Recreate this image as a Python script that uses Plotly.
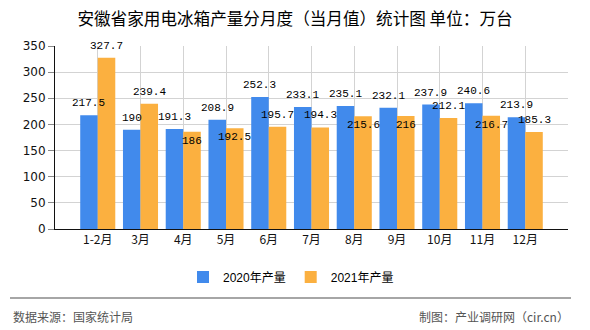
import plotly.graph_objects as go

categories = ["1-2月", "3月", "4月", "5月", "6月", "7月", "8月", "9月", "10月", "11月", "12月"]
y2020 = [217.5, 190, 191.3, 208.9, 252.3, 233.1, 235.1, 232.1, 237.9, 240.6, 213.9]
y2021 = [327.7, 239.4, 186, 192.5, 195.7, 194.3, 215.6, 216, 212.1, 216.7, 185.3]
series_names = ["2020年产量", "2021年产量"]
colors = ["#418AEC", "#FBB040"]
title = "安徽省家用电冰箱产量分月度（当月值）统计图 单位：万台"
source_left = "数据来源：国家统计局"
source_right = "制图：产业调研网（cir.cn）"

W, H = 590, 330
ML, MR, MT, MB = 55, 22, 46, 101
PW, PH = W - ML - MR, H - MT - MB
BARGAP = 0.18

xs = list(range(len(categories)))
cjk = "Noto Sans CJK SC"
label_font = dict(family="Liberation Mono, " + cjk, size=11, color="#000")

fig = go.Figure()
for name, vals, col in zip(series_names, [y2020, y2021], colors):
    fig.add_trace(go.Bar(x=xs, y=vals, name=name, marker=dict(color=col, line=dict(width=0))))

off = (1 - BARGAP) / 4
ann = []
for i, (a, b) in enumerate(zip(y2020, y2021)):
    ann.append(dict(x=i - off, y=a, text=str(a), showarrow=False, yanchor="middle",
                    yshift=12, font=label_font, xref="x", yref="y"))
    # avoid collision with neighbouring label: place inside when values are close
    shift = -9 if abs(a - b) < 25 else 12
    ann.append(dict(x=i + off, y=b, text=str(b), showarrow=False, yanchor="middle",
                    yshift=shift, font=label_font, xref="x", yref="y"))

def px_x(p):
    return (p - ML) / PW

def px_y(p):
    return (MT + PH - p) / PH

foot_font = dict(family=cjk, size=12, color="#555")
ann.append(dict(x=px_x(11), y=px_y(316), xref="paper", yref="paper", text=source_left,
                showarrow=False, xanchor="left", yanchor="middle", font=foot_font))
ann.append(dict(x=px_x(571), y=px_y(316), xref="paper", yref="paper", text=source_right,
                showarrow=False, xanchor="right", yanchor="middle", font=foot_font))

fig.update_layout(
    width=W, height=H,
    margin=dict(l=ML, r=MR, t=MT, b=MB),
    paper_bgcolor="white", plot_bgcolor="white",
    barmode="group", bargap=BARGAP, bargroupgap=0,
    title=dict(text=title, x=0.5, xref="container", xanchor="center",
               y=1 - 19 / H, yref="container", yanchor="middle",
               font=dict(family=cjk, size=16.6, color="#000")),
    xaxis=dict(range=[-1, len(categories)],
               tickmode="array",
               tickvals=[-1] + xs + [len(categories)],
               ticktext=[""] + categories + [""],
               showgrid=True, gridcolor="#D3D3D3", gridwidth=1,
               showline=True, linecolor="#111", linewidth=1,
               ticks="", zeroline=False,
               tickfont=dict(family=cjk, size=12, color="#111")),
    yaxis=dict(range=[0, 350], dtick=50, tick0=0,
               showgrid=True, gridcolor="#D3D3D3", gridwidth=1,
               showline=True, linecolor="#111", linewidth=1,
               ticks="outside", ticklen=6, tickcolor="#888",
               zeroline=False,
               tickfont=dict(family="DejaVu Sans", size=12, color="#111")),
    legend=dict(orientation="h", x=px_x(291), xanchor="center",
                y=px_y(277), yanchor="middle",
                font=dict(family="Liberation Sans, " + cjk, size=12, color="#000"),
                itemwidth=30, traceorder="normal"),
    annotations=ann,
    shapes=[dict(type="line", xref="paper", yref="paper",
                 x0=px_x(10), x1=px_x(571), y0=px_y(298), y1=px_y(298),
                 line=dict(color="#888", width=1.5))],
)

fig.write_html("out.html")
